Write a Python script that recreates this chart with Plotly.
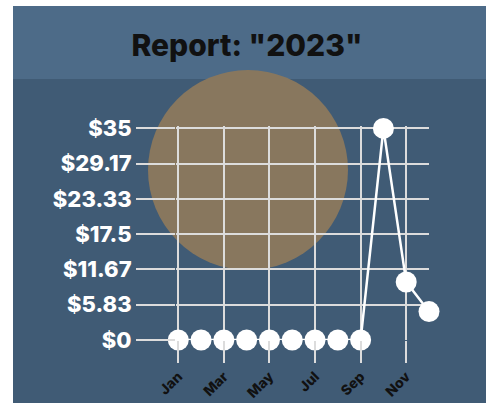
import plotly.graph_objects as go

months = ["Jan", "Feb", "Mar", "Apr", "May", "Jun", "Jul", "Aug", "Sep", "Oct", "Nov", "Dec"]
values = [0, 0, 0, 0, 0, 0, 0, 0, 0, 35, 9.6, 4.7]
y_tickvals = [0, 5.83, 11.67, 17.5, 23.33, 29.17, 35]
y_ticktext = ["$0", "$5.83", "$11.67", "$17.5", "$23.33", "$29.17", "$35"]
x_tickvals = ["Jan", "Mar", "May", "Jul", "Sep", "Nov"]

W, H = 486, 403
L, R, T, B = 176, 57, 126, 63
PW, PH = W - L - R, H - T - B

def px(x):
    return (x - L) / PW

def py(y):
    return (H - B - y) / PH

fig = go.Figure()
fig.add_trace(go.Scatter(
    x=months, y=values, mode="lines+markers",
    line=dict(color="white", width=2.5),
    marker=dict(color="white", size=21),
    cliponaxis=False, hoverinfo="skip",
))

shapes = [
    dict(type="rect", xref="paper", yref="paper", x0=px(13), x1=px(486), y0=py(403), y1=py(6),
         fillcolor="#405b75", line=dict(width=0), layer="below"),
    dict(type="rect", xref="paper", yref="paper", x0=px(13), x1=px(486), y0=py(79), y1=py(6),
         fillcolor="#4d6b88", line=dict(width=0), layer="below"),
    dict(type="circle", xref="paper", yref="paper", x0=px(148), x1=px(348), y0=py(270), y1=py(70),
         fillcolor="#8a785d", opacity=0.97, line=dict(width=0), layer="below"),
]

fig.update_layout(
    width=W, height=H,
    margin=dict(l=L, r=R, t=T, b=B, autoexpand=False),
    paper_bgcolor="white",
    plot_bgcolor="rgba(0,0,0,0)",
    showlegend=False,
    shapes=shapes,
    title=dict(text='Report: "2023"', xref="container", yref="container",
               x=247 / W, xanchor="center", y=1 - 45 / H, yanchor="middle",
               font=dict(family="Inter", size=30, color="#111111", weight=800)),
    font=dict(family="Inter"),
)
fig.update_xaxes(
    type="category", range=[-0.1, 11], tickmode="array", tickvals=x_tickvals,
    showgrid=True, gridcolor="#dcdcdc", gridwidth=2,
    ticks="outside", ticklen=22, tickwidth=2, tickcolor="#dcdcdc",
    tickangle=-45, tickfont=dict(family="Inter", size=14, color="#111111", weight=800),
    showline=False, zeroline=False, automargin=False,
)
fig.update_yaxes(
    range=[0, 35.4], tickmode="array", tickvals=y_tickvals, ticktext=y_ticktext,
    showgrid=True, gridcolor="#dcdcdc", gridwidth=2,
    ticks="outside", ticklen=39, tickwidth=2, tickcolor="#dcdcdc",
    tickfont=dict(family="Inter", size=22, color="white", weight=800),
    showline=False, zeroline=False, automargin=False,
)
fig.write_html("out.html")
